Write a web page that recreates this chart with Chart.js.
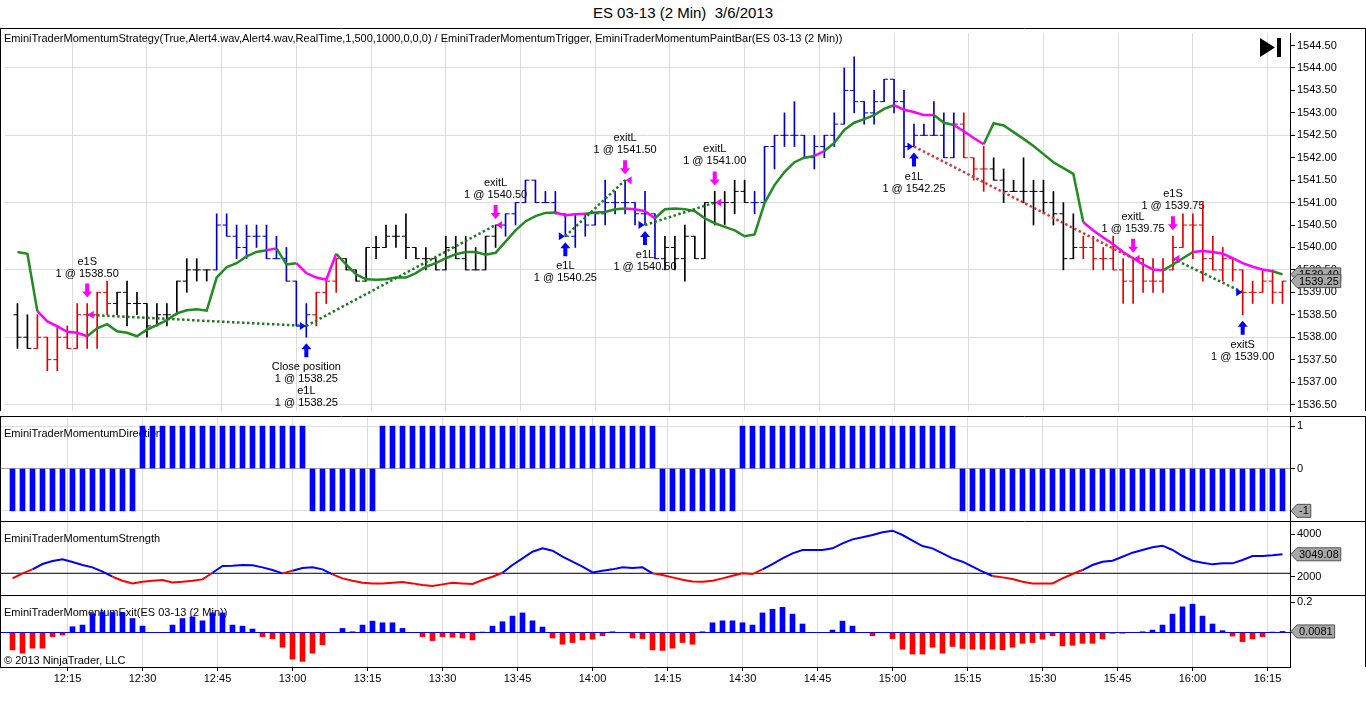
<!DOCTYPE html>
<html>
<head>
<meta charset="utf-8">
<title>ES 03-13 (2 Min) 3/6/2013</title>
<script src="https://cdn.jsdelivr.net/npm/chart.js@4.4.1/dist/chart.umd.min.js"></script>
<style>
  body { margin: 0; background: #fff; width: 1366px; height: 713px; overflow: hidden;
         font-family: "Liberation Sans", Arial, sans-serif; }
  #title { position: absolute; left: 0; top: 4px; width: 1366px; text-align: center; font-size: 15px; color: #000; }
  canvas { position: absolute; left: 0; }
</style>
</head>
<body>
<div id="title">ES 03-13 (2 Min)&nbsp; 3/6/2013</div>
<canvas id="priceChart" width="1366" height="388" style="top:28px"></canvas>
<canvas id="directionChart" width="1366" height="105" style="top:416px"></canvas>
<canvas id="strengthChart" width="1366" height="74" style="top:521px"></canvas>
<canvas id="exitChart" width="1366" height="118" style="top:595px"></canvas>
<script>
//2 minute bars, first one closes 12:04 (minutes after 12:00)
let firstBarMinute = 4
let barStepMinutes = 2

//time axis ticks
let timeTickMinutes = [15, 30, 45, 60, 75, 90, 105, 120, 135, 150, 165, 180, 195, 210, 225, 240, 255]
let timeTickLabels = ['12:15', '12:30', '12:45', '13:00', '13:15', '13:30', '13:45', '14:00', '14:15',
    '14:30', '14:45', '15:00', '15:15', '15:30', '15:45', '16:00', '16:15']

//price axis ticks
let priceTicks = [1536.5, 1537, 1537.5, 1538, 1538.5, 1539, 1539.5, 1540, 1540.5,
    1541, 1541.5, 1542, 1542.5, 1543, 1543.5, 1544, 1544.5]

//OHLC of every bar
let openPrices = [
    1538.5, 1538.0, 1537.75, 1538.0, 1537.5, 1538.0, 1537.75, 1538.5,
    1538.5, 1539.0, 1538.75, 1539.0, 1538.75, 1538.75, 1538.25, 1538.5,
    1538.5, 1539.25, 1539.5, 1539.5, 1539.5, 1540.5, 1540.25, 1540.0,
    1540.25, 1540.25, 1539.75, 1539.75, 1539.25, 1538.25, 1538.5, 1539.0,
    1539.25, 1539.75, 1539.5, 1539.25, 1540.0, 1540.0, 1540.25, 1540.25,
    1540.0, 1539.75, 1539.75, 1539.5, 1540.0, 1539.75, 1539.5, 1539.5,
    1540.25, 1540.5, 1540.75, 1541.0, 1541.5, 1541.0, 1541.0, 1540.75,
    1540.25, 1540.75, 1540.5, 1540.75, 1541.0, 1541.0, 1541.0, 1540.75,
    1540.75, 1539.75, 1540.0, 1539.75, 1540.25, 1539.75, 1541.0, 1541.0,
    1541.0, 1541.25, 1541.0, 1541.0, 1542.25, 1542.5, 1542.5, 1542.5,
    1542.0, 1542.25, 1542.5, 1542.75, 1543.5, 1543.25, 1543.0, 1543.25,
    1543.75, 1543.25, 1542.25, 1542.5, 1542.5, 1542.5, 1542.0, 1542.75,
    1542.0, 1541.75, 1541.75, 1541.5, 1541.25, 1541.25, 1541.25, 1541.25,
    1541.0, 1540.75, 1539.75, 1540.0, 1540.0, 1539.75, 1539.75, 1539.5,
    1539.25, 1539.75, 1539.25, 1539.25, 1539.5, 1540.0, 1540.5, 1540.5,
    1539.75, 1539.5, 1539.75, 1539.5, 1539.0, 1539.0, 1539.25, 1539.0
]
let highPrices = [
    1538.75, 1538.5, 1538.5, 1538.0, 1538.25, 1538.25, 1538.75, 1538.75,
    1539.0, 1539.25, 1539.0, 1539.25, 1539.0, 1538.75, 1538.75, 1538.75,
    1539.25, 1539.75, 1539.75, 1539.5, 1540.75, 1540.75, 1540.5, 1540.5,
    1540.5, 1540.5, 1540.25, 1540.0, 1539.25, 1538.75, 1539.0, 1539.25,
    1539.75, 1539.75, 1539.5, 1540.0, 1540.25, 1540.5, 1540.5, 1540.75,
    1540.0, 1540.0, 1539.75, 1540.25, 1540.25, 1540.25, 1540.0, 1540.25,
    1540.5, 1540.75, 1541.0, 1541.5, 1541.5, 1541.25, 1541.25, 1540.75,
    1540.75, 1540.75, 1540.75, 1541.5, 1541.25, 1541.5, 1541.0, 1541.25,
    1540.75, 1540.25, 1540.25, 1540.5, 1540.25, 1541.0, 1541.25, 1541.25,
    1541.5, 1541.5, 1541.25, 1542.25, 1542.5, 1543.0, 1543.25, 1542.5,
    1542.5, 1542.5, 1543.0, 1544.0, 1544.25, 1543.25, 1543.5, 1543.75,
    1543.75, 1543.5, 1542.75, 1542.75, 1543.25, 1543.0, 1543.0, 1543.0,
    1542.0, 1542.25, 1542.0, 1541.75, 1541.5, 1542.0, 1541.5, 1541.5,
    1541.25, 1541.0, 1540.75, 1540.25, 1540.25, 1540.0, 1540.25, 1539.75,
    1539.75, 1539.75, 1539.75, 1539.75, 1540.25, 1540.75, 1540.75, 1541.0,
    1540.25, 1540.0, 1539.75, 1539.5, 1539.25, 1539.5, 1539.5, 1539.25
]
let lowPrices = [
    1537.75, 1537.75, 1537.75, 1537.25, 1537.25, 1537.75, 1537.75, 1537.75,
    1537.75, 1538.5, 1538.5, 1538.25, 1538.5, 1538.0, 1538.25, 1538.25,
    1538.5, 1539.0, 1539.25, 1539.25, 1539.5, 1540.25, 1539.75, 1539.75,
    1540.0, 1539.75, 1539.75, 1539.25, 1538.25, 1538.0, 1538.25, 1538.75,
    1539.0, 1539.5, 1539.25, 1539.25, 1539.75, 1540.0, 1540.0, 1539.75,
    1539.75, 1539.5, 1539.5, 1539.5, 1539.75, 1539.5, 1539.5, 1539.5,
    1540.0, 1540.25, 1540.5, 1541.0, 1541.0, 1541.0, 1540.75, 1540.25,
    1540.0, 1540.25, 1540.5, 1540.5, 1540.75, 1540.75, 1540.5, 1540.5,
    1539.75, 1539.5, 1539.5, 1539.25, 1539.75, 1539.75, 1540.5, 1540.5,
    1540.75, 1541.0, 1540.75, 1541.0, 1541.75, 1542.25, 1542.25, 1542.0,
    1541.75, 1542.0, 1542.25, 1542.75, 1543.0, 1542.75, 1542.75, 1543.25,
    1543.0, 1542.0, 1542.25, 1542.5, 1542.5, 1542.0, 1542.0, 1542.0,
    1541.5, 1541.25, 1541.5, 1541.0, 1541.25, 1541.0, 1540.5, 1540.75,
    1540.5, 1539.5, 1539.75, 1539.75, 1539.5, 1539.5, 1539.5, 1538.75,
    1538.75, 1539.0, 1539.0, 1539.0, 1539.5, 1540.0, 1539.75, 1539.25,
    1539.5, 1539.25, 1539.25, 1538.5, 1538.75, 1539.0, 1538.75, 1538.75
]
let closePrices = [
    1538.0, 1537.75, 1538.0, 1537.5, 1538.0, 1537.75, 1538.5, 1538.5,
    1539.0, 1538.75, 1539.0, 1538.75, 1538.75, 1538.25, 1538.5, 1538.5,
    1539.25, 1539.5, 1539.5, 1539.5, 1540.5, 1540.25, 1540.0, 1540.25,
    1540.25, 1539.75, 1539.75, 1539.25, 1538.25, 1538.5, 1539.0, 1539.25,
    1539.75, 1539.5, 1539.25, 1540.0, 1540.0, 1540.25, 1540.25, 1540.0,
    1539.75, 1539.75, 1539.5, 1540.0, 1539.75, 1539.5, 1539.5, 1540.25,
    1540.5, 1540.75, 1541.0, 1541.5, 1541.0, 1541.0, 1540.75, 1540.25,
    1540.75, 1540.5, 1540.75, 1541.0, 1541.0, 1541.0, 1540.75, 1540.75,
    1539.75, 1540.0, 1539.75, 1540.25, 1539.75, 1541.0, 1541.0, 1541.0,
    1541.25, 1541.0, 1541.0, 1542.25, 1542.5, 1542.5, 1542.5, 1542.0,
    1542.25, 1542.5, 1542.75, 1543.5, 1543.25, 1543.0, 1543.25, 1543.75,
    1543.25, 1542.25, 1542.5, 1542.5, 1542.5, 1542.0, 1542.75, 1542.0,
    1541.75, 1541.75, 1541.5, 1541.25, 1541.25, 1541.25, 1541.25, 1541.0,
    1540.75, 1539.75, 1540.0, 1540.0, 1539.75, 1539.75, 1539.5, 1539.25,
    1539.75, 1539.25, 1539.25, 1539.5, 1540.0, 1540.5, 1540.5, 1539.75,
    1539.5, 1539.75, 1539.5, 1539.0, 1539.0, 1539.25, 1539.0, 1539.25
]

//paint bar colour of each bar: k = neutral, b = long, r = short
let paintCodes = [
    'k','k','r','r','r','r','r','r','r','r','k','k','k','k','k','k',
    'k','k','k','k','b','b','b','b','b','b','b','b','b','b','r','r',
    'r','k','k','k','k','k','k','k','k','k','k','k','k','k','k','k',
    'k','b','b','b','b','b','b','b','b','b','b','b','b','b','b','b',
    'b','k','k','k','k','k','k','k','k','k','b','b','b','b','b','b',
    'b','b','b','b','b','b','b','b','b','b','b','b','b','b','b','r',
    'r','r','k','k','k','k','k','k','k','k','k','r','r','r','r','r',
    'r','r','r','r','r','r','r','r','r','r','r','r','r','r','r','r'
]

//trigger line and its colour (colour of the segment arriving at that bar)
let triggerValues = [
    1539.90, 1539.86, 1538.58, 1538.35, 1538.24, 1538.12, 1538.10, 1538.02,
    1538.20, 1538.29, 1538.13, 1538.10, 1538.02, 1538.17, 1538.27, 1538.38,
    1538.53, 1538.60, 1538.62, 1538.59, 1539.33, 1539.56, 1539.65, 1539.80,
    1539.90, 1539.94, 1539.98, 1539.62, 1539.65, 1539.43, 1539.33, 1539.28,
    1539.86, 1539.62, 1539.40, 1539.29, 1539.28, 1539.29, 1539.33, 1539.33,
    1539.43, 1539.57, 1539.65, 1539.76, 1539.85, 1539.90, 1539.90, 1539.84,
    1539.88, 1540.13, 1540.38, 1540.58, 1540.70, 1540.77, 1540.78, 1540.72,
    1540.74, 1540.75, 1540.78, 1540.79, 1540.85, 1540.87, 1540.85, 1540.81,
    1540.65, 1540.85, 1540.87, 1540.85, 1540.81, 1540.65, 1540.54, 1540.46,
    1540.38, 1540.25, 1540.29, 1540.99, 1541.39, 1541.68, 1541.90, 1542.00,
    1542.04, 1542.15, 1542.33, 1542.62, 1542.78, 1542.86, 1542.95, 1543.09,
    1543.17, 1543.07, 1543.02, 1542.95, 1542.95, 1542.78, 1542.73, 1542.59,
    1542.44, 1542.30, 1542.77, 1542.72, 1542.57, 1542.42, 1542.26, 1542.08,
    1541.90, 1541.77, 1541.64, 1540.56, 1540.38, 1540.22, 1540.07, 1539.90,
    1539.76, 1539.62, 1539.51, 1539.49, 1539.62, 1539.76, 1539.90, 1539.92,
    1539.90, 1539.86, 1539.76, 1539.65, 1539.57, 1539.51, 1539.47, 1539.40
]
let triggerCodes = [
    'g','g','g','m','m','m','m','m','g','g','g','g','g','g','g','g',
    'g','g','g','g','g','g','g','g','g','g','m','g','g','m','m','m',
    'm','g','g','g','g','g','g','g','g','g','g','g','g','g','g','g',
    'g','g','g','g','g','g','g','m','m','m','g','g','g','g','m','m',
    'm','g','g','g','g','g','g','g','g','g','g','g','g','g','g','g',
    'g','m','g','g','g','g','g','g','g','m','m','m','m','g','g','m',
    'm','m','g','g','g','g','g','g','g','g','g','g','m','m','m','m',
    'm','m','m','m','g','g','g','m','m','m','m','m','m','m','m','g'
]

//executions
let markerBars = [7, 29, 48, 55, 61, 63, 70, 90, 112, 116, 123]
let markerPrices = [1538.50, 1538.25, 1540.50, 1540.25, 1541.50, 1540.50, 1541.00, 1542.25, 1539.75, 1539.75, 1539.00]
let markerSides = ['sell', 'buy', 'sell', 'buy', 'sell', 'buy', 'sell', 'buy', 'sell', 'sell', 'buy']
let markerNames = [['e1S'], ['Close position', 'e1L'], ['exitL'], ['e1L'], ['exitL'], ['e1L'],
    ['exitL'], ['e1L'], ['exitL'], ['e1S'], ['exitS']]

//trades joined by dotted lines
let tradeEntryBars = [7, 29, 55, 63, 90, 116]
let tradeEntryPrices = [1538.50, 1538.25, 1540.25, 1540.50, 1542.25, 1539.75]
let tradeExitBars = [29, 48, 61, 70, 112, 123]
let tradeExitPrices = [1538.25, 1540.50, 1541.50, 1541.00, 1539.75, 1539.00]
let tradeDirections = [-1, 1, 1, 1, 1, -1]

//EminiTraderMomentumDirection
let directionValues = [
    -1, -1, -1, -1, -1, -1, -1, -1, -1, -1, -1, -1, -1, 1, 1, 1,
    1, 1, 1, 1, 1, 1, 1, 1, 1, 1, 1, 1, 1, 1, -1, -1,
    -1, -1, -1, -1, -1, 1, 1, 1, 1, 1, 1, 1, 1, 1, 1, 1,
    1, 1, 1, 1, 1, 1, 1, 1, 1, 1, 1, 1, 1, 1, 1, 1,
    1, -1, -1, -1, -1, -1, -1, -1, -1, 1, 1, 1, 1, 1, 1, 1,
    1, 1, 1, 1, 1, 1, 1, 1, 1, 1, 1, 1, 1, 1, 1, -1,
    -1, -1, -1, -1, -1, -1, -1, -1, -1, -1, -1, -1, -1, -1, -1, -1,
    -1, -1, -1, -1, -1, -1, -1, -1, -1, -1, -1, -1, -1, -1, -1, -1
]

//EminiTraderMomentumStrength
let strengthValues = [
    1922, 2156, 2344, 2594, 2734, 2812, 2687, 2547,
    2437, 2234, 2000, 1812, 1687, 1766, 1812, 1844,
    1734, 1766, 1812, 1875, 2187, 2500, 2516, 2547,
    2531, 2437, 2312, 2156, 2281, 2406, 2437, 2344,
    2109, 1922, 1812, 1719, 1687, 1687, 1719, 1750,
    1687, 1609, 1562, 1641, 1719, 1687, 1656, 1844,
    2000, 2187, 2547, 2859, 3172, 3328, 3219, 2937,
    2703, 2469, 2203, 2281, 2344, 2437, 2406, 2437,
    2156, 2078, 1969, 1860, 1781, 1766, 1812, 1922,
    2047, 2156, 2125, 2344, 2594, 2859, 3094, 3250,
    3250, 3250, 3328, 3562, 3750, 3844, 3953, 4078,
    4156, 3953, 3687, 3437, 3328, 3094, 2859, 2703,
    2469, 2234, 2031, 1969, 1891, 1766, 1687, 1687,
    1687, 1922, 2125, 2312, 2547, 2703, 2750, 2937,
    3125, 3250, 3375, 3453, 3250, 2969, 2750, 2656,
    2578, 2625, 2625, 2781, 2969, 2969, 3000, 3049.08
]
let strengthLevel = 2160

//EminiTraderMomentumExit
let exitValues = [
    -0.113, -0.135, -0.102, -0.102, -0.026, -0.015, 0.039, 0.05,
    0.126, 0.137, 0.133, 0.13, 0.093, 0.043, 0, 0,
    0.05, 0.093, 0.104, 0.078, 0.13, 0.13, 0.05, 0.043,
    0.024, -0.026, -0.039, -0.096, -0.174, -0.189, -0.135, -0.08,
    0, 0.028, 0.006, 0.05, 0.076, 0.065, 0.065, 0.028,
    0, -0.026, -0.052, -0.026, -0.03, -0.035, -0.048, 0.004,
    0.043, 0.072, 0.109, 0.13, 0.078, 0.037, -0.035, -0.076,
    -0.065, -0.048, -0.043, -0.02, 0.006, 0, -0.035, -0.039,
    -0.113, -0.117, -0.102, -0.065, -0.076, 0.006, 0.065, 0.078,
    0.078, 0.065, 0.05, 0.13, 0.154, 0.167, 0.122, 0.057,
    0, 0, 0.017, 0.076, 0.043, 0, -0.02, 0,
    -0.039, -0.109, -0.141, -0.141, -0.096, -0.135, -0.091, -0.104,
    -0.109, -0.109, -0.109, -0.113, -0.096, -0.07, -0.065, -0.043,
    -0.02, -0.087, -0.083, -0.07, -0.07, -0.041, -0.004, -0.004,
    0, 0.006, 0.017, 0.05, 0.122, 0.17, 0.187, 0.109,
    0.057, 0.013, -0.022, -0.059, -0.041, -0.026, 0.004, 0.0081
]

Chart.defaults.font.family = '"Liberation Sans", Arial, sans-serif'
Chart.defaults.font.size = 11
Chart.defaults.color = '#000'

let xMin = 1.5
let xMax = 259.5
let barMinutes = highPrices.map((h, i) => firstBarMinute + i * barStepMinutes)
let paintColors = {k: '#000000', r: '#e00000', b: '#0000c8'}
let barColors = paintCodes.map(c => paintColors[c])
let labelFont = '11px "Liberation Sans", Arial, sans-serif'

//x axis shared by all four panels, labels only on the last one
function xAxis(showLabels) {
    return {
        type: 'linear', min: xMin, max: xMax, offset: false,
        afterBuildTicks: s => { s.ticks = timeTickMinutes.map(v => ({value: v})) },
        afterFit: s => { s.paddingLeft = 0; s.paddingRight = 0; s.height = showLabels ? 46 : 0 },
        grid: {color: '#dcdcdc', drawTicks: showLabels, tickLength: 4, tickColor: '#000', offset: false},
        border: {display: showLabels, color: '#000'},
        ticks: {display: showLabels, padding: 1, maxRotation: 0, autoSkip: false,
            callback: (v, i) => timeTickLabels[i]}
    }
}

function yAxis(min, max, tickValues, gridColor, format) {
    return {
        type: 'linear', position: 'right', min: min, max: max,
        afterBuildTicks: s => { s.ticks = tickValues.map(v => ({value: v})) },
        afterFit: s => { s.width = 76; s.paddingTop = 0; s.paddingBottom = 0 },
        grid: {color: c => gridColor(c.tick.value), drawTicks: true, tickLength: 5, tickColor: '#000'},
        border: {display: true, color: '#000'},
        ticks: {padding: 2, autoSkip: false, callback: format}
    }
}

function chartOptions(scales) {
    return {
        responsive: false, animation: false, devicePixelRatio: 1, events: [],
        layout: {padding: 0},
        plugins: {legend: {display: false}, tooltip: {enabled: false}},
        scales: scales
    }
}

//grey value box on the price scale
function valueBox(ctx, x, y, text) {
    ctx.font = labelFont
    let w = ctx.measureText(text).width
    ctx.beginPath()
    ctx.moveTo(x + 1, y)
    ctx.lineTo(x + 7, y - 6.5)
    ctx.lineTo(x + 11 + w, y - 6.5)
    ctx.lineTo(x + 11 + w, y + 6.5)
    ctx.lineTo(x + 7, y + 6.5)
    ctx.closePath()
    ctx.fillStyle = '#a8a8a8'
    ctx.fill()
    ctx.strokeStyle = '#505050'
    ctx.lineWidth = 1
    ctx.stroke()
    ctx.fillStyle = '#000'
    ctx.textAlign = 'left'
    ctx.textBaseline = 'middle'
    ctx.fillText(text, x + 9, y + 0.5)
}

//panel frame, title and value boxes
function panelPlugin(title, boxes, extraText) {
    return {
        id: 'panel',
        beforeDatasetsDraw(chart) {
            let ctx = chart.ctx
            ctx.save()
            ctx.font = labelFont
            ctx.fillStyle = '#000'
            ctx.textAlign = 'left'
            ctx.textBaseline = 'middle'
            ctx.fillText(title.text, 4, title.y)
            if (extraText) ctx.fillText(extraText.text, 4, extraText.y)
            ctx.restore()
        },
        afterDraw(chart) {
            let ctx = chart.ctx
            let area = chart.chartArea
            ctx.save()
            ctx.strokeStyle = '#000'
            ctx.lineWidth = 1
            ctx.beginPath()
            ctx.moveTo(0, 0.5); ctx.lineTo(chart.width, 0.5)
            ctx.moveTo(0.5, 0); ctx.lineTo(0.5, area.bottom)
            ctx.moveTo(chart.width - 0.5, 0); ctx.lineTo(chart.width - 0.5, area.bottom)
            ctx.stroke()
            let yScale = chart.scales.y
            boxes().forEach(b => valueBox(ctx, area.right, yScale.getPixelForValue(b.value), b.text))
            ctx.restore()
        }
    }
}

//arrow used for executions
function drawArrow(ctx, x, yTip, dir, color) {
    let yBase = yTip + dir * 14
    let yNeck = yTip + dir * 6
    ctx.beginPath()
    ctx.moveTo(x, yTip)
    ctx.lineTo(x + 5, yNeck)
    ctx.lineTo(x + 2, yNeck)
    ctx.lineTo(x + 2, yBase)
    ctx.lineTo(x - 2, yBase)
    ctx.lineTo(x - 2, yNeck)
    ctx.lineTo(x - 5, yNeck)
    ctx.closePath()
    ctx.fillStyle = color
    ctx.fill()
}

function markerLines(k) {
    let lines = []
    markerNames[k].forEach(n => { lines.push(n); lines.push('1 @ ' + markerPrices[k].toFixed(2)) })
    return lines
}

let executionPlugin = {
    id: 'executions',
    beforeDatasetsDraw(chart) {
        let {ctx, scales: {x, y}} = chart
        ctx.save()
        ctx.font = labelFont
        ctx.fillStyle = '#000'
        ctx.textAlign = 'center'
        ctx.textBaseline = 'middle'
        markerBars.forEach((bar, k) => {
            let bx = x.getPixelForValue(barMinutes[bar])
            let lines = markerLines(k)
            if (markerSides[k] === 'buy') {
                let low = y.getPixelForValue(lowPrices[bar])
                lines.forEach((t, j) => ctx.fillText(t, bx, low + 30 + j * 12))
            } else {
                let high = y.getPixelForValue(highPrices[bar])
                lines.forEach((t, j) => ctx.fillText(t, bx, high - 30 - (lines.length - 1 - j) * 12))
            }
        })
        ctx.restore()
    },
    afterDatasetsDraw(chart) {
        let {ctx, scales: {x, y}} = chart
        ctx.save()
        markerBars.forEach((bar, k) => {
            let bx = x.getPixelForValue(barMinutes[bar])
            let py = y.getPixelForValue(markerPrices[k])
            ctx.beginPath()
            if (markerSides[k] === 'buy') {
                drawArrow(ctx, bx, y.getPixelForValue(lowPrices[bar]) + 6, 1, '#0000ff')
                ctx.beginPath()
                ctx.moveTo(bx - 0.5, py)
                ctx.lineTo(bx - 6.5, py - 4)
                ctx.lineTo(bx - 6.5, py + 4)
                ctx.fillStyle = '#0000ff'
            } else {
                drawArrow(ctx, bx, y.getPixelForValue(highPrices[bar]) - 6, -1, '#ff00ff')
                ctx.beginPath()
                ctx.moveTo(bx + 0.5, py)
                ctx.lineTo(bx + 6.5, py - 4)
                ctx.lineTo(bx + 6.5, py + 4)
                ctx.fillStyle = '#ff00ff'
            }
            ctx.closePath()
            ctx.fill()
        })
        //go-to-end button
        ctx.fillStyle = '#000'
        ctx.beginPath()
        ctx.moveTo(1260, 10); ctx.lineTo(1275, 19.5); ctx.lineTo(1260, 29)
        ctx.closePath()
        ctx.fill()
        ctx.fillRect(1277, 10, 4, 19)
        ctx.restore()
    }
}

//main price panel
let lastBar = closePrices.length - 1
let tradeDatasets = tradeEntryBars.map((entryBar, k) => {
    let profit = (tradeExitPrices[k] - tradeEntryPrices[k]) * tradeDirections[k]
    return {
        type: 'line',
        data: [{x: barMinutes[entryBar], y: tradeEntryPrices[k]}, {x: barMinutes[tradeExitBars[k]], y: tradeExitPrices[k]}],
        borderColor: profit > 0 ? '#1e7a1e' : '#d03a3a',
        borderWidth: 2.5,
        borderDash: [2.5, 2.5],
        pointRadius: 0,
        order: 1
    }
})

let priceChart = new Chart(document.getElementById('priceChart'), {
    type: 'line',
    data: {
        datasets: tradeDatasets.concat([
            {
                type: 'line',
                data: triggerValues.map((v, i) => ({x: barMinutes[i], y: v})),
                borderWidth: 2.5,
                borderColor: '#228b22',
                segment: {borderColor: c => triggerCodes[c.p1DataIndex] === 'm' ? '#ff00ff' : '#228b22'},
                pointRadius: 0,
                order: 2
            },
            {
                type: 'line',
                data: openPrices.map((v, i) => ({x: barMinutes[i], y: v})),
                showLine: false,
                pointStyle: 'dash',
                pointRotation: 180,
                pointRadius: 4,
                pointBorderWidth: 1,
                pointBorderColor: barColors,
                order: 3
            },
            {
                type: 'line',
                data: closePrices.map((v, i) => ({x: barMinutes[i], y: v})),
                showLine: false,
                pointStyle: 'dash',
                pointRotation: 0,
                pointRadius: 4,
                pointBorderWidth: 1,
                pointBorderColor: barColors,
                order: 3
            },
            {
                type: 'bar',
                data: highPrices.map((h, i) => ({x: barMinutes[i], y: [lowPrices[i], h]})),
                backgroundColor: barColors,
                barThickness: 1,
                grouped: false,
                borderWidth: 0,
                order: 4
            }
        ])
    },
    options: chartOptions({
        x: xAxis(false),
        y: yAxis(1536.355, 1544.78, priceTicks,
            v => Math.abs((v - 1536.5) / 1.5 - Math.round((v - 1536.5) / 1.5)) < 1e-6 ? '#dcdcdc' : 'rgba(0,0,0,0)',
            v => v.toFixed(2))
    }),
    plugins: [executionPlugin, panelPlugin(
        {text: 'EminiTraderMomentumStrategy(True,Alert4.wav,Alert4.wav,RealTime,1,500,1000,0,0,0) / EminiTraderMomentumTrigger, EminiTraderMomentumPaintBar(ES 03-13 (2 Min))', y: 11},
        () => [{value: triggerValues[lastBar], text: triggerValues[lastBar].toFixed(2)},
               {value: closePrices[lastBar], text: closePrices[lastBar].toFixed(2)}])]
})

//direction panel
let directionChart = new Chart(document.getElementById('directionChart'), {
    type: 'bar',
    data: {
        datasets: [{
            data: directionValues.map((v, i) => ({x: barMinutes[i], y: v})),
            backgroundColor: '#0000ff',
            barThickness: 5,
            grouped: false,
            borderWidth: 0
        }]
    },
    options: chartOptions({
        x: xAxis(false),
        y: yAxis(-1.24, 1.24, [-1, 0, 1], v => v === 0 ? '#a8a8a8' : '#e0e0e0', v => v === -1 ? '' : String(v))
    }),
    plugins: [panelPlugin({text: 'EminiTraderMomentumDirection', y: 18},
        () => [{value: directionValues[lastBar], text: String(directionValues[lastBar])}])]
})

//strength panel
let strengthChart = new Chart(document.getElementById('strengthChart'), {
    type: 'line',
    data: {
        datasets: [
            {
                data: strengthValues.map((v, i) => ({x: barMinutes[i], y: v})),
                borderWidth: 2,
                borderColor: '#0000ff',
                segment: {borderColor: c => c.p0.parsed.y < strengthLevel ? '#ff0000' : '#0000ff'},
                pointRadius: 0
            },
            {
                data: [{x: xMin, y: strengthLevel}, {x: xMax, y: strengthLevel}],
                borderWidth: 1,
                borderColor: '#000',
                pointRadius: 0
            }
        ]
    },
    options: chartOptions({
        x: xAxis(false),
        y: yAxis(1143, 4609, [2000, 4000], v => 'rgba(0,0,0,0)', v => String(v))
    }),
    plugins: [panelPlugin({text: 'EminiTraderMomentumStrength', y: 18},
        () => [{value: strengthValues[lastBar], text: strengthValues[lastBar].toFixed(2)}])]
})

//exit panel
let exitChart = new Chart(document.getElementById('exitChart'), {
    type: 'bar',
    data: {
        datasets: [{
            data: exitValues.map((v, i) => ({x: barMinutes[i], y: v})),
            backgroundColor: exitValues.map(v => v >= 0 ? '#0000ff' : '#ff0000'),
            barThickness: 5,
            grouped: false,
            borderWidth: 0
        }]
    },
    options: chartOptions({
        x: xAxis(true),
        y: yAxis(-0.226, 0.248, [0, 0.2], v => v === 0 ? '#0000ff' : 'rgba(0,0,0,0)', v => v === 0 ? '' : String(v))
    }),
    plugins: [panelPlugin({text: 'EminiTraderMomentumExit(ES 03-13 (2 Min))', y: 18},
        () => [{value: exitValues[lastBar], text: exitValues[lastBar].toFixed(4)}],
        {text: '\u00a9 2013 NinjaTrader, LLC', y: 66})]
})
</script>
</body>
</html>
